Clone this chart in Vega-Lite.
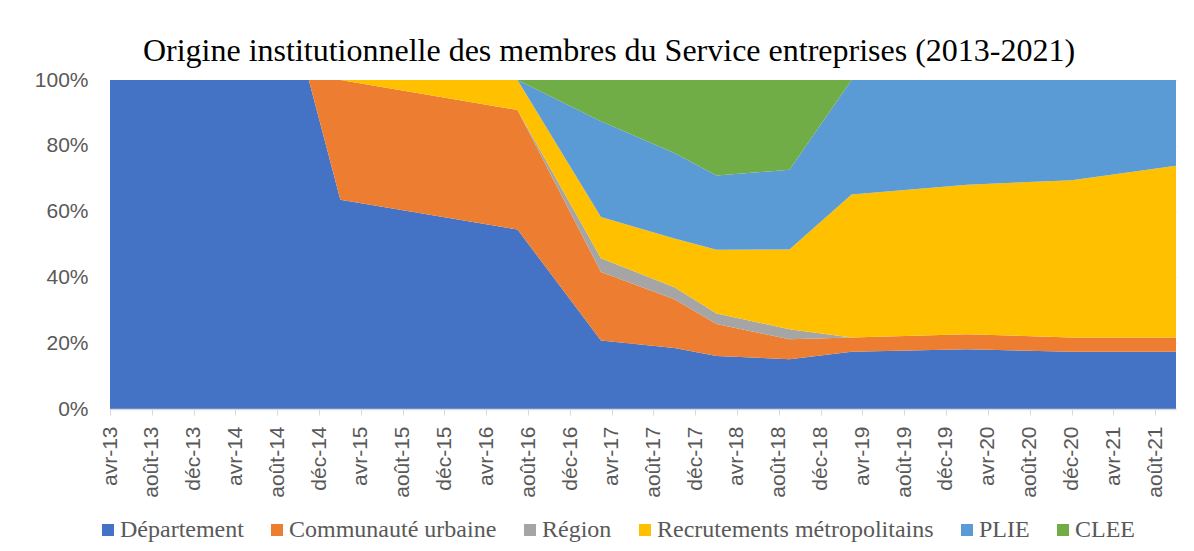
{
  "$schema": "https://vega.github.io/schema/vega-lite/v6.json",
  "autosize": {"type": "none"},
  "width": 1066,
  "height": 329,
  "padding": {"left": 110, "top": 80, "right": 18, "bottom": 142},
  "background": "white",
  "title": {
    "text": "Origine institutionnelle des membres du Service entreprises (2013-2021)",
    "font": "Liberation Serif",
    "fontSize": 32,
    "fontWeight": "normal",
    "color": "#000000",
    "anchor": "middle",
    "dx": -34,
    "offset": 1
  },
  "data": {
    "values": [
      {"d": "2013-04-01", "s": "Département", "n": 5},
      {"d": "2013-04-01", "s": "Communauté urbaine", "n": 0},
      {"d": "2013-04-01", "s": "Région", "n": 0},
      {"d": "2013-04-01", "s": "Recrutements métropolitains", "n": 0},
      {"d": "2013-04-01", "s": "PLIE", "n": 0},
      {"d": "2013-04-01", "s": "CLEE", "n": 0},
      {"d": "2014-11-01", "s": "Département", "n": 7},
      {"d": "2014-11-01", "s": "Communauté urbaine", "n": 0},
      {"d": "2014-11-01", "s": "Région", "n": 0},
      {"d": "2014-11-01", "s": "Recrutements métropolitains", "n": 0},
      {"d": "2014-11-01", "s": "PLIE", "n": 0},
      {"d": "2014-11-01", "s": "CLEE", "n": 0},
      {"d": "2015-02-01", "s": "Département", "n": 7},
      {"d": "2015-02-01", "s": "Communauté urbaine", "n": 4},
      {"d": "2015-02-01", "s": "Région", "n": 0},
      {"d": "2015-02-01", "s": "Recrutements métropolitains", "n": 0},
      {"d": "2015-02-01", "s": "PLIE", "n": 0},
      {"d": "2015-02-01", "s": "CLEE", "n": 0},
      {"d": "2016-07-01", "s": "Département", "n": 6},
      {"d": "2016-07-01", "s": "Communauté urbaine", "n": 4},
      {"d": "2016-07-01", "s": "Région", "n": 0},
      {"d": "2016-07-01", "s": "Recrutements métropolitains", "n": 1},
      {"d": "2016-07-01", "s": "PLIE", "n": 0},
      {"d": "2016-07-01", "s": "CLEE", "n": 0},
      {"d": "2017-03-01", "s": "Département", "n": 5},
      {"d": "2017-03-01", "s": "Communauté urbaine", "n": 5},
      {"d": "2017-03-01", "s": "Région", "n": 1},
      {"d": "2017-03-01", "s": "Recrutements métropolitains", "n": 3},
      {"d": "2017-03-01", "s": "PLIE", "n": 7},
      {"d": "2017-03-01", "s": "CLEE", "n": 3},
      {"d": "2017-10-01", "s": "Département", "n": 5},
      {"d": "2017-10-01", "s": "Communauté urbaine", "n": 4},
      {"d": "2017-10-01", "s": "Région", "n": 1},
      {"d": "2017-10-01", "s": "Recrutements métropolitains", "n": 4},
      {"d": "2017-10-01", "s": "PLIE", "n": 7},
      {"d": "2017-10-01", "s": "CLEE", "n": 6},
      {"d": "2018-02-01", "s": "Département", "n": 5},
      {"d": "2018-02-01", "s": "Communauté urbaine", "n": 3},
      {"d": "2018-02-01", "s": "Région", "n": 1},
      {"d": "2018-02-01", "s": "Recrutements métropolitains", "n": 6},
      {"d": "2018-02-01", "s": "PLIE", "n": 7},
      {"d": "2018-02-01", "s": "CLEE", "n": 9},
      {"d": "2018-09-01", "s": "Département", "n": 5},
      {"d": "2018-09-01", "s": "Communauté urbaine", "n": 2},
      {"d": "2018-09-01", "s": "Région", "n": 1},
      {"d": "2018-09-01", "s": "Recrutements métropolitains", "n": 8},
      {"d": "2018-09-01", "s": "PLIE", "n": 8},
      {"d": "2018-09-01", "s": "CLEE", "n": 9},
      {"d": "2019-03-01", "s": "Département", "n": 4},
      {"d": "2019-03-01", "s": "Communauté urbaine", "n": 1},
      {"d": "2019-03-01", "s": "Région", "n": 0},
      {"d": "2019-03-01", "s": "Recrutements métropolitains", "n": 10},
      {"d": "2019-03-01", "s": "PLIE", "n": 8},
      {"d": "2019-03-01", "s": "CLEE", "n": 0},
      {"d": "2020-02-01", "s": "Département", "n": 4},
      {"d": "2020-02-01", "s": "Communauté urbaine", "n": 1},
      {"d": "2020-02-01", "s": "Région", "n": 0},
      {"d": "2020-02-01", "s": "Recrutements métropolitains", "n": 10},
      {"d": "2020-02-01", "s": "PLIE", "n": 7},
      {"d": "2020-02-01", "s": "CLEE", "n": 0},
      {"d": "2020-12-01", "s": "Département", "n": 4},
      {"d": "2020-12-01", "s": "Communauté urbaine", "n": 1},
      {"d": "2020-12-01", "s": "Région", "n": 0},
      {"d": "2020-12-01", "s": "Recrutements métropolitains", "n": 11},
      {"d": "2020-12-01", "s": "PLIE", "n": 7},
      {"d": "2020-12-01", "s": "CLEE", "n": 0},
      {"d": "2021-10-01", "s": "Département", "n": 4},
      {"d": "2021-10-01", "s": "Communauté urbaine", "n": 1},
      {"d": "2021-10-01", "s": "Région", "n": 0},
      {"d": "2021-10-01", "s": "Recrutements métropolitains", "n": 12},
      {"d": "2021-10-01", "s": "PLIE", "n": 6},
      {"d": "2021-10-01", "s": "CLEE", "n": 0}
    ],
    "format": {"parse": {"d": "utc:'%Y-%m-%d'"}}
  },
  "transform": [
    {"calculate": "indexof(['Département', 'Communauté urbaine', 'Région', 'Recrutements métropolitains', 'PLIE', 'CLEE'], datum.s)", "as": "k"}
  ],
  "mark": {"type": "area", "interpolate": "linear"},
  "encoding": {
    "x": {
      "field": "d",
      "type": "temporal",
      "scale": {
        "type": "utc",
        "nice": false,
        "domain": [
          {"year": 2013, "month": 4, "date": 1, "utc": true},
          {"year": 2021, "month": 10, "date": 1, "utc": true}
        ]
      },
      "axis": {
        "title": null,
        "zindex": 1,
        "values": [
          {"year": 2013, "month": 4, "date": 1, "utc": true},
          {"year": 2013, "month": 8, "date": 1, "utc": true},
          {"year": 2013, "month": 12, "date": 1, "utc": true},
          {"year": 2014, "month": 4, "date": 1, "utc": true},
          {"year": 2014, "month": 8, "date": 1, "utc": true},
          {"year": 2014, "month": 12, "date": 1, "utc": true},
          {"year": 2015, "month": 4, "date": 1, "utc": true},
          {"year": 2015, "month": 8, "date": 1, "utc": true},
          {"year": 2015, "month": 12, "date": 1, "utc": true},
          {"year": 2016, "month": 4, "date": 1, "utc": true},
          {"year": 2016, "month": 8, "date": 1, "utc": true},
          {"year": 2016, "month": 12, "date": 1, "utc": true},
          {"year": 2017, "month": 4, "date": 1, "utc": true},
          {"year": 2017, "month": 8, "date": 1, "utc": true},
          {"year": 2017, "month": 12, "date": 1, "utc": true},
          {"year": 2018, "month": 4, "date": 1, "utc": true},
          {"year": 2018, "month": 8, "date": 1, "utc": true},
          {"year": 2018, "month": 12, "date": 1, "utc": true},
          {"year": 2019, "month": 4, "date": 1, "utc": true},
          {"year": 2019, "month": 8, "date": 1, "utc": true},
          {"year": 2019, "month": 12, "date": 1, "utc": true},
          {"year": 2020, "month": 4, "date": 1, "utc": true},
          {"year": 2020, "month": 8, "date": 1, "utc": true},
          {"year": 2020, "month": 12, "date": 1, "utc": true},
          {"year": 2021, "month": 4, "date": 1, "utc": true},
          {"year": 2021, "month": 8, "date": 1, "utc": true}
        ],
        "labelExpr": "['janv','févr','mars','avr','mai','juin','juil','août','sept','oct','nov','déc'][utcmonth(datum.value)] + '-' + utcFormat(datum.value, '%y')",
        "labelAngle": -90,
        "labelAlign": "right",
        "labelBaseline": "middle",
        "labelFont": "Liberation Sans",
        "labelFontSize": 21,
        "labelColor": "#595959",
        "labelPadding": 11,
        "labelOverlap": false,
        "labelFlush": false,
        "ticks": true,
        "tickSize": 6,
        "tickColor": "#D9D9D9",
        "domainColor": "#D9D9D9",
        "domainWidth": 1.5,
        "grid": false
      }
    },
    "y": {
      "field": "n",
      "type": "quantitative",
      "stack": "normalize",
      "scale": {"domain": [0, 1], "nice": false},
      "axis": {
        "title": null,
        "values": [0, 0.2, 0.4, 0.6, 0.8, 1],
        "format": ".0%",
        "domain": false,
        "ticks": false,
        "tickSize": 0,
        "grid": true,
        "gridColor": "#D9D9D9",
        "labelFont": "Liberation Sans",
        "labelFontSize": 21,
        "labelColor": "#595959",
        "labelPadding": 22
      }
    },
    "order": {"field": "k", "type": "quantitative", "sort": "ascending"},
    "color": {
      "field": "s",
      "type": "nominal",
      "sort": ["Département", "Communauté urbaine", "Région", "Recrutements métropolitains", "PLIE", "CLEE"],
      "scale": {
        "domain": ["Département", "Communauté urbaine", "Région", "Recrutements métropolitains", "PLIE", "CLEE"],
        "range": ["#4472C4", "#ED7D31", "#A5A5A5", "#FFC000", "#5B9BD5", "#70AD47"]
      },
      "legend": {
        "title": null,
        "orient": "none",
        "direction": "horizontal",
        "legendX": -14,
        "legendY": 438,
        "symbolType": "square",
        "symbolSize": 144,
        "symbolStrokeWidth": 0,
        "labelFont": "Liberation Serif",
        "labelFontSize": 24,
        "labelColor": "#595959",
        "labelOffset": 0,
        "labelLimit": 0,
        "columnPadding": 21,
        "padding": 0
      }
    }
  },
  "config": {"view": {"stroke": null}}
}
